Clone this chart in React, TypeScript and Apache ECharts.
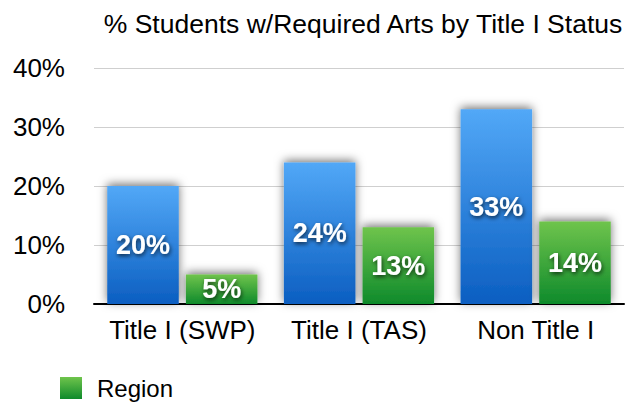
import React, { useEffect, useRef } from "react";
import * as echarts from "echarts";

const categories = ["Title I (SWP)", "Title I (TAS)", "Non Title I"];
const schoolValues = [20, 24, 33];
const regionValues = [5, 13, 14];
const yTicks = [0, 10, 20, 30, 40];

export default function App() {
  const ref = useRef<HTMLDivElement>(null);
  useEffect(() => {
    const chart = echarts.init(ref.current!, null, { renderer: "svg" });
    const font = "'Liberation Sans', Arial, Helvetica, sans-serif";
    const labelStyle = {
      show: true,
      position: "inside" as const,
      formatter: "{c}%",
      color: "#fff",
      fontSize: 27,
      fontWeight: "bold" as const,
      fontFamily: font,
      textShadowColor: "rgba(0,0,0,0.7)",
      textShadowBlur: 4,
      textShadowOffsetX: 1,
      textShadowOffsetY: 2,
    };
    chart.setOption({
      animation: false,
      backgroundColor: "#fff",
      title: {
        text: "% Students w/Required Arts by Title I Status",
        left: 358,
        top: 5,
        textAlign: "center",
        textStyle: { fontFamily: font, fontSize: 26.5, fontWeight: "normal", color: "#000" },
      },
      legend: {
        data: ["Region"],
        left: 55,
        top: 371,
        itemWidth: 22,
        itemHeight: 22,
        itemGap: 10,
        icon: "rect",
        textStyle: { fontFamily: font, fontSize: 24, lineHeight: 24, color: "#000", padding: [0, 0, 0, 10] },
      },
      grid: { left: 94, right: 7, top: 68, bottom: 98, containLabel: false },
      xAxis: {
        type: "category",
        data: categories,
        axisLine: { lineStyle: { color: "#000", width: 2 } },
        axisTick: { show: false },
        axisLabel: { fontFamily: font, fontSize: 26, color: "#000", margin: 13, interval: 0 },
      },
      yAxis: {
        type: "value",
        min: yTicks[0],
        max: yTicks[yTicks.length - 1],
        interval: 10,
        axisLine: { show: false },
        axisTick: { show: false },
        splitLine: { lineStyle: { color: "#cfcfcf", width: 1 } },
        axisLabel: {
          fontFamily: font,
          fontSize: 26,
          color: "#000",
          formatter: "{value}%",
          margin: 29,
        },
      },
      series: [
        {
          name: "School",
          type: "bar",
          data: schoolValues,
          barGap: "10%",
          barCategoryGap: "15%",
          itemStyle: {
            color: new echarts.graphic.LinearGradient(0, 0, 0, 1, [
              { offset: 0, color: "#52a8f7" },
              { offset: 1, color: "#0b5ec1" },
            ]),
            shadowColor: "rgba(0,0,0,0.55)",
            shadowBlur: 10,
            shadowOffsetY: -2,
          },
          label: labelStyle,
        },
        {
          name: "Region",
          type: "bar",
          data: regionValues,
          itemStyle: {
            color: new echarts.graphic.LinearGradient(0, 0, 0, 1, [
              { offset: 0, color: "#6fc44c" },
              { offset: 1, color: "#0e8a2b" },
            ]),
            shadowColor: "rgba(0,0,0,0.55)",
            shadowBlur: 10,
            shadowOffsetY: -2,
          },
          label: labelStyle,
        },
      ],
    });
    return () => chart.dispose();
  }, []);
  return <div ref={ref} style={{ width: 631, height: 402, position: "fixed", left: 0, top: 0 }} />;
}
